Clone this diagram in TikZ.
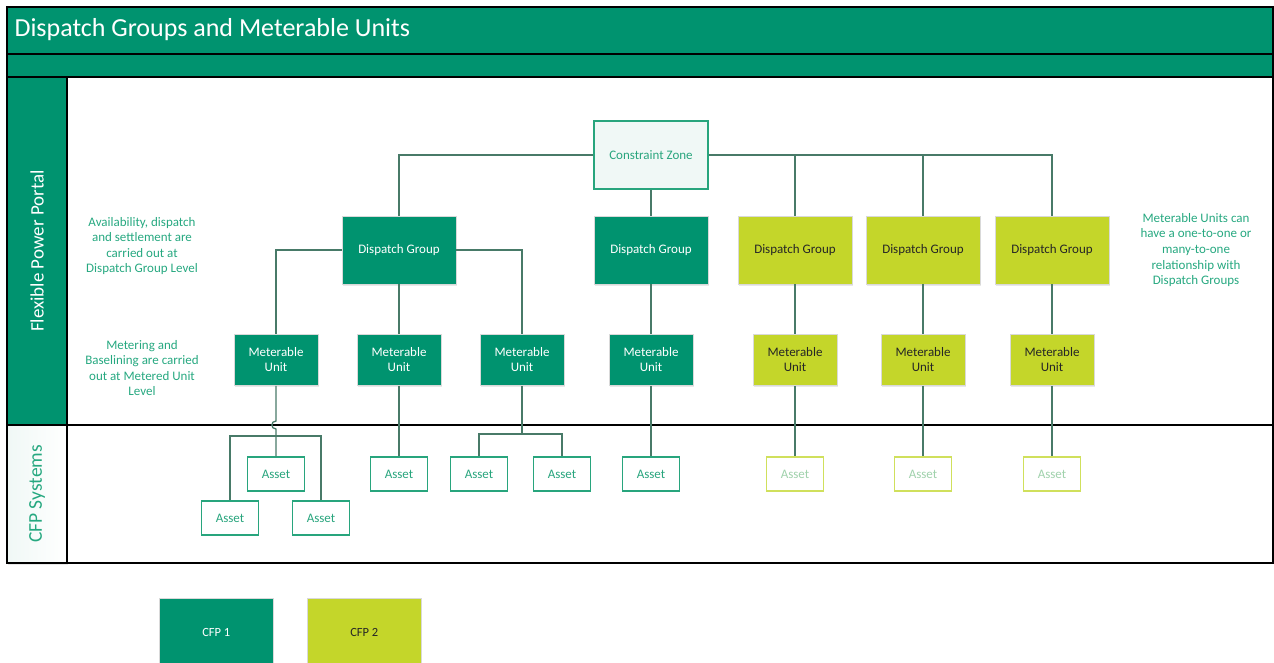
\documentclass[tikz,border=0pt]{standalone}
\usepackage{fontspec}
\setmainfont{Carlito}
\usetikzlibrary{shadows}
\definecolor{cfpgreen}{RGB}{0,147,111}
\definecolor{cfpyellow}{RGB}{196,214,42}
\definecolor{linecol}{RGB}{72,122,104}
\definecolor{txtgreen}{RGB}{38,168,128}
\definecolor{assetgreen}{RGB}{40,165,125}
\definecolor{assetyel}{RGB}{208,224,92}
\definecolor{assetyeltxt}{RGB}{160,210,172}
\definecolor{czfill}{RGB}{240,248,246}
\begin{document}
\begin{tikzpicture}[x=1pt,y=-1pt,
  frame/.style={draw=black,line width=1.3pt},
  shade/.style={drop shadow={opacity=0.18,shadow xshift=1pt,shadow yshift=-1.5pt}},
  dgbox/.style={rectangle,minimum width=114pt,minimum height=68pt,draw=black!15,line width=0.6pt,shade,align=center,font=\fontsize{13}{15}\selectfont},
  mubox/.style={rectangle,minimum width=84pt,minimum height=51pt,draw=black!15,line width=0.6pt,shade,align=center,font=\fontsize{13}{15}\selectfont},
  gbox/.style={fill=cfpgreen,text=white},
  ybox/.style={fill=cfpyellow,text=black!85},
  assetg/.style={rectangle,minimum width=57pt,minimum height=34pt,draw=assetgreen,line width=1.1pt,fill=white,text=assetgreen,font=\fontsize{13}{15}\selectfont},
  assety/.style={rectangle,minimum width=57pt,minimum height=34pt,draw=assetyel,line width=1.1pt,fill=white,text=assetyeltxt,font=\fontsize{13}{15}\selectfont},
  note/.style={align=center,text=txtgreen,font=\fontsize{13}{15.6}\selectfont},
  conn/.style={draw=linecol,line width=1.3pt}
]
\useasboundingbox (0,0) rectangle (1274,663);
% frame
\fill[cfpgreen] (7,7) rectangle (1273,77);
\draw[frame] (7,7) rectangle (1273,54);
\draw[frame] (7,54) rectangle (1273,77);
\node[anchor=west,text=white,font=\fontsize{26}{29}\selectfont] (title) at (11,30) {Dispatch Groups and Meterable Units};
\fill[cfpgreen] (7,77) rectangle (67,425);
\shade[left color=czfill,right color=white] (7,425) rectangle (67,563);
\draw[frame] (7,77) rectangle (1273,425);
\draw[frame] (7,425) rectangle (1273,563);
\draw[frame] (67,77) -- (67,563);
\node[rotate=90,text=white,font=\fontsize{19}{21}\selectfont] (lane1) at (37,251) {Flexible Power Portal};
\node[rotate=90,text=txtgreen,font=\fontsize{19.5}{21}\selectfont] (lane2) at (37,494) {CFP Systems};

% notes
\node[note] (n1) at (142,246) {Availability, dispatch\\and settlement are\\carried out at\\Dispatch Group Level};
\node[note] (n2) at (142,368) {Metering and\\Baselining are carried\\out at Metered Unit\\Level};
\node[note] (n3) at (1196,250) {Meterable Units can\\have a one-to-one or\\many-to-one\\relationship with\\Dispatch Groups};

% nodes
\node[dgbox,draw=assetgreen,line width=1.1pt,fill=czfill,text=assetgreen] (cz) at (651,155) {Constraint Zone};
\node[dgbox,gbox] (dg1) at (399,250) {Dispatch Group};
\node[dgbox,gbox] (dg2) at (651,250) {Dispatch Group};
\node[dgbox,ybox] (dg3) at (795,250) {Dispatch Group};
\node[dgbox,ybox] (dg4) at (923,250) {Dispatch Group};
\node[dgbox,ybox] (dg5) at (1052,250) {Dispatch Group};

\node[mubox,gbox] (mu1) at (276,360) {Meterable\\Unit};
\node[mubox,gbox] (mu2) at (399,360) {Meterable\\Unit};
\node[mubox,gbox] (mu3) at (522,360) {Meterable\\Unit};
\node[mubox,gbox] (mu4) at (651,360) {Meterable\\Unit};
\node[mubox,ybox] (mu5) at (795,360) {Meterable\\Unit};
\node[mubox,ybox] (mu6) at (923,360) {Meterable\\Unit};
\node[mubox,ybox] (mu7) at (1052,360) {Meterable\\Unit};

\node[assetg] (as1) at (276,474) {Asset};
\node[assetg] (as2) at (230,518) {Asset};
\node[assetg] (as3) at (321,518) {Asset};
\node[assetg] (as4) at (399,474) {Asset};
\node[assetg] (as5) at (479,474) {Asset};
\node[assetg] (as6) at (562,474) {Asset};
\node[assetg] (as7) at (651,474) {Asset};
\node[assety] (as8) at (795,474) {Asset};
\node[assety] (as9) at (923,474) {Asset};
\node[assety] (as10) at (1052,474) {Asset};

% connectors
\draw[conn] (cz.west) -| (dg1.north);
\draw[conn] (cz.east) -| (dg5.north);
\draw[conn] (dg3.north) -- (dg3.north |- cz.east);
\draw[conn] (dg4.north) -- (dg4.north |- cz.east);
\draw[conn] (cz.south) -- (dg2.north);
\draw[conn] (dg1.west) -| (mu1.north);
\draw[conn] (dg1.east) -| (mu3.north);
\draw[conn] (dg1.south) -- (mu2.north);
\draw[conn] (dg2.south) -- (mu4.north);
\draw[conn] (dg3.south) -- (mu5.north);
\draw[conn] (dg4.south) -- (mu6.north);
\draw[conn] (dg5.south) -- (mu7.north);
\coordinate (hopT) at (276,421);
\coordinate (hopB) at (276,429);
\coordinate (jA) at (276,436);
\coordinate (jB) at (522,434);
\draw[conn] (mu1.south) -- (hopT) .. controls ([xshift=-5.5pt]hopT) and ([xshift=-5.5pt]hopB) .. (hopB) -- (as1.north);
\draw[conn] (as2.north) |- (jA) -| (as3.north);
\draw[conn] (mu2.south) -- (as4.north);
\draw[conn] (mu3.south) -- (jB);
\draw[conn] (as5.north) |- (jB) -| (as6.north);
\draw[conn] (mu4.south) -- (as7.north);
\draw[conn] (mu5.south) -- (as8.north);
\draw[conn] (mu6.south) -- (as9.north);
\draw[conn] (mu7.south) -- (as10.north);

% legend
\node[dgbox,gbox,font=\fontsize{12.5}{14}\selectfont,anchor=north west] (l1) at (159,598) {CFP 1};
\node[dgbox,ybox,font=\fontsize{12.5}{14}\selectfont,anchor=north west] (l2) at (307,598) {CFP 2};
\end{tikzpicture}
\end{document}
